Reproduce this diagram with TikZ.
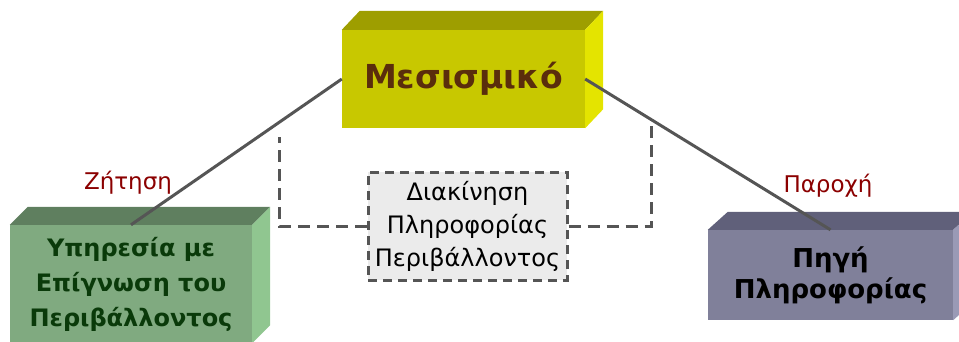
\documentclass[tikz,border=0pt]{standalone}
\usepackage{fontspec}
\usetikzlibrary{calc}
\setmainfont{DejaVu Sans}
\definecolor{mfront}{HTML}{C8C800}
\definecolor{mtop}{HTML}{9E9E00}
\definecolor{mside}{HTML}{E4E400}
\definecolor{gfront}{HTML}{80AA80}
\definecolor{gtop}{HTML}{5F7F5F}
\definecolor{gside}{HTML}{90C690}
\definecolor{pfront}{HTML}{80809A}
\definecolor{ptop}{HTML}{60607A}
\definecolor{pside}{HTML}{9A9AB6}
\definecolor{brownt}{HTML}{5A2D0C}
\definecolor{greent}{HTML}{0A3A0A}
\definecolor{labred}{HTML}{8B0000}
\definecolor{linegray}{HTML}{555555}
\definecolor{dashgray}{HTML}{555555}
\definecolor{dboxfill}{HTML}{EBEBEB}
\tikzset{
  front/.style={inner sep=0pt, align=center, font=\bfseries},
  conn/.style={draw=linegray, line width=3pt},
  dconn/.style={draw=dashgray, line width=3pt, dash pattern=on 12pt off 7pt},
  lab/.style={text=labred, font=\fontsize{23}{26}\selectfont},
}
\begin{document}
\begin{tikzpicture}[x=1pt,y=-1pt]
\useasboundingbox (0,0) rectangle (959,341);
% dashed box
\node[draw=dashgray, fill=dboxfill, line width=3pt, dash pattern=on 9pt off 6pt,
      minimum width=199pt, minimum height=108pt, inner sep=0pt, align=center,
      font=\fontsize{24}{33}\selectfont] (D) at (467.5,226)
      {Διακίνηση\\Πληροφορίας\\Περιβάλλοντος};
\coordinate (c1) at (279,137);
\coordinate (c2) at (651,122);
\draw[dconn] (D.west) -| (c1);
\draw[dconn] (D.east) -| (c2);
% central box
\node[front, fill=mfront, minimum width=243pt, minimum height=98pt,
      text=brownt, font=\bfseries\fontsize{33}{38}\selectfont] (M) at (463.5,79) {Μεσισμικό};
\fill[mtop] (M.north west) -- ++(18,-19) -- ($(M.north east)+(18,-19)$) -- (M.north east) -- cycle;
\fill[mside] (M.north east) -- ++(18,-19) -- ($(M.south east)+(18,-19)$) -- (M.south east) -- cycle;
% left box
\node[front, fill=gfront, minimum width=242pt, minimum height=118pt,
      text=greent, font=\bfseries\fontsize{24}{35}\selectfont] (L) at (131,284)
      {Υπηρεσία με\\Επίγνωση του\\Περιβάλλοντος};
\fill[gtop] (L.north west) -- ++(18,-18) -- ($(L.north east)+(18,-18)$) -- (L.north east) -- cycle;
\fill[gside] (L.north east) -- ++(18,-18) -- ($(L.south east)+(18,-18)$) -- (L.south east) -- cycle;
% right box
\node[front, fill=pfront, minimum width=245pt, minimum height=90pt,
      text=black, font=\bfseries\fontsize{26}{31}\selectfont] (R) at (830.5,275)
      {Πηγή\\Πληροφορίας};
\fill[ptop] (R.north west) -- ++(20,-18) -- ($(R.north east)+(20,-18)$) -- (R.north east) -- cycle;
\fill[pside] (R.north east) -- ++(20,-18) -- ($(R.south east)+(20,-18)$) -- (R.south east) -- cycle;
% connectors
\draw[conn] (M.west) -- (L.north);
\draw[conn] (M.east) -- (R.north);
% labels
\node[lab] (z) at (128,183) {Ζήτηση};
\node[lab] (p) at (828,186) {Παροχή};
\end{tikzpicture}
\end{document}
